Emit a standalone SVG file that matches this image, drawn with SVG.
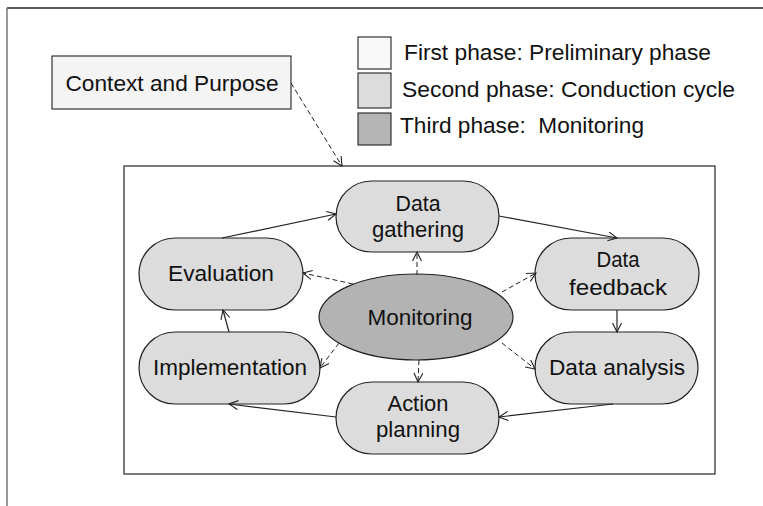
<svg xmlns="http://www.w3.org/2000/svg" width="763" height="506" viewBox="0 0 763 506">
<style>
text{font-family:"Liberation Sans",Arial,sans-serif;font-size:22px;fill:#111;white-space:pre}
.n{fill:#dcdcdc;stroke:#222;stroke-width:1.2}
.c{text-anchor:middle}
.e{fill:none;stroke:#222;stroke-width:1.2;marker-end:url(#ah)}
.d{fill:none;stroke:#222;stroke-width:1;stroke-dasharray:5,3;marker-end:url(#ah)}
</style>
<defs>
<marker id="ah" markerUnits="userSpaceOnUse" markerWidth="12" markerHeight="12" refX="10" refY="5" orient="auto">
<path d="M1,0.5 L10,5 L1,9.5" fill="none" stroke="#222" stroke-width="1.1"/>
</marker>
</defs>
<rect width="763" height="506" fill="#fff"/>
<g id="frame">
<line x1="7" y1="8" x2="763" y2="8" stroke="#222" stroke-width="1.3"/>
<line x1="7" y1="8" x2="7" y2="506" stroke="#777" stroke-width="1.5"/>
</g>
<g id="legend">
<rect x="358" y="37" width="33" height="32" fill="#f8f8f8" stroke="#222" stroke-width="1.1"/>
<rect x="358" y="73" width="33" height="35" fill="#dcdcdc" stroke="#222" stroke-width="1.1"/>
<rect x="358" y="113" width="33" height="32" fill="#b4b4b4" stroke="#222" stroke-width="1.1"/>
<text x="404" y="60" textLength="307" lengthAdjust="spacingAndGlyphs">First phase: Preliminary phase</text>
<text x="402" y="97" textLength="333" lengthAdjust="spacingAndGlyphs">Second phase: Conduction cycle</text>
<text x="400" y="133" textLength="244" lengthAdjust="spacingAndGlyphs">Third phase:  Monitoring</text>
</g>
<g id="context">
<rect x="52" y="56" width="239" height="53" fill="#f4f4f4" stroke="#222" stroke-width="1.1"/>
<text x="172" y="91" class="c" textLength="213" lengthAdjust="spacingAndGlyphs">Context and Purpose</text>
</g>
<g id="cycle-box">
<rect x="124" y="166" width="591" height="308" fill="#fff" stroke="#333" stroke-width="1.3"/>
<line x1="124" y1="166" x2="124" y2="474" stroke="#777" stroke-width="1.5"/>
</g>
<g id="data-gathering">
<rect class="n" x="336" y="181" width="163" height="71" rx="35.5"/>
<text x="418" y="211" class="c" textLength="45" lengthAdjust="spacingAndGlyphs">Data</text>
<text x="418" y="237" class="c" textLength="92" lengthAdjust="spacingAndGlyphs">gathering</text>
</g>
<g id="evaluation">
<rect class="n" x="139" y="238" width="164" height="72" rx="36"/>
<text x="221" y="281" class="c" textLength="106" lengthAdjust="spacingAndGlyphs">Evaluation</text>
</g>
<g id="data-feedback">
<rect class="n" x="535" y="238" width="164" height="72" rx="36"/>
<text x="618" y="267" class="c" textLength="43" lengthAdjust="spacingAndGlyphs">Data</text>
<text x="618" y="295" class="c" textLength="98" lengthAdjust="spacingAndGlyphs">feedback</text>
</g>
<g id="implementation">
<rect class="n" x="139" y="332" width="181" height="72" rx="36"/>
<text x="230" y="375" class="c" textLength="154" lengthAdjust="spacingAndGlyphs">Implementation</text>
</g>
<g id="data-analysis">
<rect class="n" x="535" y="332" width="163" height="72" rx="36"/>
<text x="617" y="375" class="c" textLength="136" lengthAdjust="spacingAndGlyphs">Data analysis</text>
</g>
<g id="action-planning">
<rect class="n" x="336" y="382" width="163" height="72" rx="36"/>
<text x="418" y="411" class="c" textLength="61" lengthAdjust="spacingAndGlyphs">Action</text>
<text x="418" y="437" class="c" textLength="84" lengthAdjust="spacingAndGlyphs">planning</text>
</g>
<g id="monitoring">
<ellipse cx="416" cy="317" rx="97" ry="43" fill="#b3b3b3" stroke="#222" stroke-width="1.2"/>
<text x="420" y="325" class="c" textLength="105" lengthAdjust="spacingAndGlyphs">Monitoring</text>
</g>
<g id="connectors">
<path class="d" d="M291,83 L342,166"/>
<path class="e" d="M222,238 L336,214"/>
<path class="e" d="M499,216 L617,238"/>
<path class="e" d="M617,310 L617,332"/>
<path class="e" d="M613,404 L499,417"/>
<path class="e" d="M336,417 L229,404"/>
<path class="e" d="M229,332 L223,310"/>
<path class="d" d="M417,275 L417,252"/>
<path class="d" d="M353,284 L303,273"/>
<path class="d" d="M502,292 L536,273"/>
<path class="d" d="M502,343 L535,369"/>
<path class="d" d="M339,343 L320,368"/>
<path class="d" d="M419,360 L418,382"/>
</g>
</svg>
